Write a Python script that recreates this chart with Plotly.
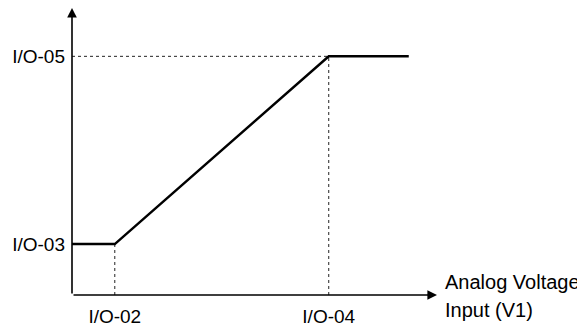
import plotly.graph_objects as go

# curve points (arbitrary units: origin at axes crossing)
x_pts = [0, 1.0, 6.0, 7.87]
y_pts = [1.0, 1.0, 4.69, 4.69]

x_ticks = [1.0, 6.0]
x_labels = ["I/O-02", "I/O-04"]
y_ticks = [1.0, 4.69]
y_labels = ["I/O-03", "I/O-05"]

x_title = ["Analog Voltage", "Input (V1)"]

x_max = 8.53
y_max = 5.64

FONT = "Liberation Sans, Arial"
FSIZE = 19

fig = go.Figure()

# dotted guide lines
fig.add_trace(go.Scatter(
    x=[0, x_pts[2], None, x_pts[1], x_pts[1], None, x_pts[2], x_pts[2]],
    y=[y_pts[2], y_pts[2], None, 0, y_pts[1], None, 0, y_pts[2]],
    mode="lines", line=dict(color="#222", width=1, dash="dot"),
    hoverinfo="skip", cliponaxis=False,
))

# the characteristic
fig.add_trace(go.Scatter(
    x=x_pts, y=y_pts, mode="lines",
    line=dict(color="black", width=2.5),
    cliponaxis=False,
))

# axes with arrows
for (tx, ty) in [(x_max, 0), (0, y_max)]:
    fig.add_annotation(
        x=tx, y=ty, ax=0, ay=0, xref="x", yref="y", axref="x", ayref="y",
        text="", showarrow=True, arrowhead=2, arrowsize=1.2, arrowwidth=1.6,
        arrowcolor="black", standoff=0,
    )

# axis title, two lines a bit further apart than plotly's default spacing
for line, shift in zip(x_title, [13, -15]):
    fig.add_annotation(
        x=x_max, y=0, xref="x", yref="y", xanchor="left", yanchor="middle",
        xshift=6, yshift=shift,
        text=line, showarrow=False, align="left",
        font=dict(family=FONT, size=20, color="black"),
    )

fig.update_xaxes(
    range=[0, x_max], showgrid=False, zeroline=False, showline=False,
    tickvals=x_ticks, ticktext=x_labels, ticks="", ticklabelstandoff=8,
    tickfont=dict(family=FONT, size=FSIZE, color="black"), automargin=False,
)
fig.update_yaxes(
    range=[0, y_max], showgrid=False, zeroline=False, showline=False,
    tickvals=y_ticks, ticktext=y_labels, ticks="", ticklabelstandoff=6,
    tickfont=dict(family=FONT, size=FSIZE, color="black"), automargin=False,
)

# page body adds an 8px offset, so the figure is 8px smaller each way
fig.update_layout(
    width=577, height=318,
    margin=dict(l=64, r=148, t=0, b=31),
    plot_bgcolor="white", paper_bgcolor="white",
    showlegend=False,
)

fig.write_html("out.html")
